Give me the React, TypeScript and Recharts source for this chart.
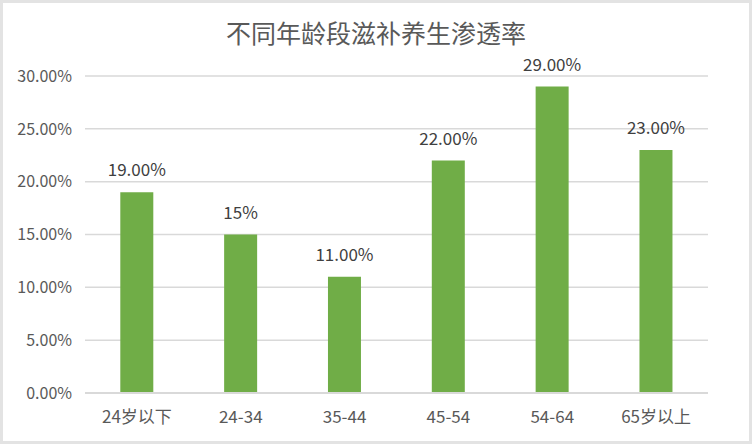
import React from 'react';
import { BarChart, Bar, XAxis, YAxis, CartesianGrid, LabelList } from 'recharts';

const categories = ['24岁以下', '24-34', '35-44', '45-54', '54-64', '65岁以上'];
const penetration = [19, 15, 11, 22, 29, 23];
const valueLabels = ['19.00%', '15%', '11.00%', '22.00%', '29.00%', '23.00%'];
const yTicks = [0, 5, 10, 15, 20, 25, 30];

const FONT = '"Noto Sans CJK SC", "Noto Sans", sans-serif';

const chartData = categories.map((name, i) => ({
    name,
    value: penetration[i],
    label: valueLabels[i]
}));

const App: React.FC = () => {
    return (
        <div style={{ position: 'absolute', left: 0, top: 0, width: 752, height: 444, background: '#fff', fontFamily: FONT }}>
            <div
                style={{
                    position: 'absolute',
                    top: 14,
                    left: 0,
                    width: 752,
                    textAlign: 'center',
                    fontSize: 25,
                    color: '#595959',
                    lineHeight: '36px'
                }}
            >
                不同年龄段滋补养生渗透率
            </div>
            <BarChart
                width={752}
                height={444}
                data={chartData}
                margin={{ top: 76, right: 44, bottom: 0, left: 0 }}
                barCategoryGap="34%"
            >
                <CartesianGrid vertical={false} stroke="#d9d9d9" strokeWidth={1.5} />
                <XAxis
                    dataKey="name"
                    height={51}
                    tickLine={false}
                    axisLine={{ stroke: '#d9d9d9', strokeWidth: 2 }}
                    tickMargin={12}
                    tick={{ fill: '#595959', fontSize: 17, fontFamily: FONT }}
                    interval={0}
                />
                <YAxis
                    width={85}
                    domain={[0, 30]}
                    ticks={yTicks}
                    tickFormatter={(v: number) => `${v.toFixed(2)}%`}
                    tickLine={false}
                    axisLine={false}
                    tickMargin={7}
                    tick={{ fill: '#595959', fontSize: 16, fontFamily: FONT }}
                />
                <Bar dataKey="value" fill="#70ad47" isAnimationActive={false}>
                    <LabelList
                        dataKey="label"
                        position="top"
                        offset={16}
                        fill="#404040"
                        fontSize={17}
                        fontFamily={FONT}
                    />
                </Bar>
            </BarChart>
            <div
                style={{
                    position: 'absolute',
                    left: 0,
                    top: 0,
                    width: 752,
                    height: 444,
                    boxSizing: 'border-box',
                    border: '3px solid #e3e3e3',
                    pointerEvents: 'none'
                }}
            />
        </div>
    );
};

export default App;
